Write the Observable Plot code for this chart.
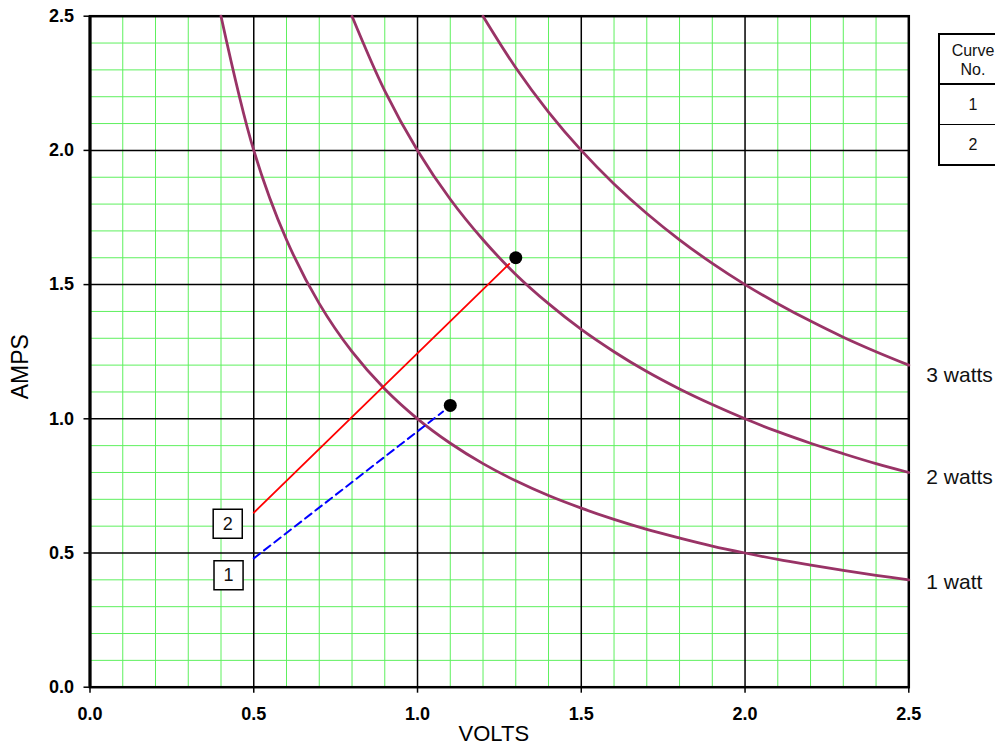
<!DOCTYPE html>
<html><head><meta charset="utf-8">
<script src="https://cdn.jsdelivr.net/npm/d3@7"></script>
<script src="https://cdn.jsdelivr.net/npm/@observablehq/plot@0.6"></script>
<style>
body{margin:0;background:#fff;font-family:"Liberation Sans",Arial,Helvetica,sans-serif;}
#wrap{position:relative;width:995px;height:751px;overflow:hidden;}
#wrap svg{display:block;}
#tbl{position:absolute;left:938px;top:33px;width:90px;border:2px solid #000;background:#fff;font-size:16px;color:#111;}
#tbl .c{width:66px;text-align:center;}
#tbl .h{height:50px;border-bottom:2px solid #000;line-height:19px;padding-top:6px;box-sizing:border-box;}
#tbl .r1{height:40px;border-bottom:1px solid #000;line-height:40px;box-sizing:border-box;}
#tbl .r2{height:39px;line-height:39px;box-sizing:border-box;}
</style>
</head><body>
<div id="wrap"></div>
<script>
// ---- data ----
const majorTicks = [0, 0.5, 1.0, 1.5, 2.0, 2.5];
const minorTicks = [0.1,0.2,0.3,0.4,0.6,0.7,0.8,0.9,1.1,1.2,1.3,1.4,1.6,1.7,1.8,1.9,2.1,2.2,2.3,2.4];

const volts1W = [0.4,0.5,0.6,0.7,0.8,0.9,1.0,1.1,1.2,1.3,1.4,1.5,1.6,1.7,1.8,1.9,2.0,2.1,2.2,2.3,2.4,2.5];
const amps1W  = [2.5,2.0,1.667,1.429,1.25,1.111,1.0,0.909,0.833,0.769,0.714,0.667,0.625,0.588,0.556,0.526,0.5,0.476,0.455,0.435,0.417,0.4];
const volts2W = [0.8,0.9,1.0,1.1,1.2,1.3,1.4,1.5,1.6,1.7,1.8,1.9,2.0,2.1,2.2,2.3,2.4,2.5];
const amps2W  = [2.5,2.222,2.0,1.818,1.667,1.538,1.429,1.333,1.25,1.176,1.111,1.053,1.0,0.952,0.909,0.870,0.833,0.8];
const volts3W = [1.2,1.3,1.4,1.5,1.6,1.7,1.8,1.9,2.0,2.1,2.2,2.3,2.4,2.5];
const amps3W  = [2.5,2.308,2.143,2.0,1.875,1.765,1.667,1.579,1.5,1.429,1.364,1.304,1.25,1.2];

const wattLabels = ["3 watts", "2 watts", "1 watt"];
const wattLabelX = [2.5, 2.5, 2.5];
const wattLabelY = [1.161, 0.783, 0.391];

// load lines
const line2Volts = [0.5, 1.28];
const line2Amps  = [0.65, 1.577];
const line1Volts = [0.5, 1.078];
const line1Amps  = [0.48, 1.027];

// operating points
const pointVolts = [1.3, 1.1];
const pointAmps  = [1.6, 1.05];

// boxed curve numbers
const boxLabels = ["2", "1"];
const boxVolts  = [0.4205, 0.423];
const boxAmps   = [0.609, 0.417];

const axisXLabel = "VOLTS";
const axisYLabel = "AMPS";

// ---- build tables ----
const curves = [];
[[volts1W, amps1W, "1"], [volts2W, amps2W, "2"], [volts3W, amps3W, "3"]].forEach(([vs, as, k]) => {
  vs.forEach((v, i) => curves.push({volts: v, amps: as[i], curve: k}));
});
const l2 = line2Volts.map((v, i) => ({volts: v, amps: line2Amps[i]}));
const l1 = line1Volts.map((v, i) => ({volts: v, amps: line1Amps[i]}));
const pts = pointVolts.map((v, i) => ({volts: v, amps: pointAmps[i]}));
const boxes = boxLabels.map((t, i) => ({label: t, volts: boxVolts[i], amps: boxAmps[i]}));
const wl = wattLabels.map((t, i) => ({label: t, volts: wattLabelX[i], amps: wattLabelY[i]}));

const green = "#5ef05e";
const chart = Plot.plot({
  width: 995, height: 751,
  marginLeft: 89.5, marginRight: 86.7, marginTop: 15.7, marginBottom: 64.3,
  style: {fontFamily: "Liberation Sans, Arial, Helvetica, sans-serif", background: "transparent", color: "#000"},
  x: {domain: [0, 2.5]},
  y: {domain: [0, 2.5]},
  marks: [
    Plot.ruleX(minorTicks, {stroke: green, strokeWidth: 1}),
    Plot.ruleY(minorTicks, {stroke: green, strokeWidth: 1}),
    Plot.ruleX(majorTicks, {stroke: "#000", strokeWidth: 1.5}),
    Plot.ruleY(majorTicks, {stroke: "#000", strokeWidth: 1.5}),
    Plot.frame({stroke: "#000", strokeWidth: 2.5}),
    Plot.ruleX([0], {stroke: "#000", strokeWidth: 3}),
    Plot.axisX(majorTicks, {tickFormat: d => d.toFixed(1), tickSize: 6, tickPadding: 14, fontSize: 18, fontWeight: "bold", strokeWidth: 1.5, label: null}),
    Plot.axisY(majorTicks, {tickFormat: d => d.toFixed(1), tickSize: 6, tickPadding: 10, fontSize: 18, fontWeight: "bold", strokeWidth: 1.5, label: null}),
    Plot.line(curves, {x: "volts", y: "amps", z: "curve", stroke: "#993366", strokeWidth: 2.8, curve: "catmull-rom"}),
    Plot.line(l2, {x: "volts", y: "amps", stroke: "#ff0000", strokeWidth: 1.8}),
    Plot.line(l1, {x: "volts", y: "amps", stroke: "#0000ff", strokeWidth: 2, strokeDasharray: "8,5"}),
    Plot.dot(pts, {x: "volts", y: "amps", r: 6.5, fill: "#000"}),
    Plot.dot(boxes, {x: "volts", y: "amps", symbol: "square", r: 16.4, fill: "#fff", stroke: "#000", strokeWidth: 1.5}),
    Plot.text(boxes, {x: "volts", y: "amps", text: "label", fontSize: 18, fill: "#111"}),
    Plot.text(wl, {x: "volts", y: "amps", text: "label", dx: 17.5, textAnchor: "start", fontSize: 21, fill: "#111"}),
    Plot.text([axisYLabel], {text: d => d, frameAnchor: "left", textAnchor: "middle", lineAnchor: "middle", dx: -69.5, dy: 15, rotate: -90, fontSize: 23, fill: "#000"}),
    Plot.text([axisXLabel], {text: d => d, frameAnchor: "bottom", textAnchor: "middle", lineAnchor: "middle", dx: -5.6, dy: 46.3, fontSize: 22, fill: "#000"})
  ]
});
const wrap = document.getElementById("wrap");
wrap.appendChild(chart);

// curve-number table (partially cut off at right edge, as in the reference)
const tbl = document.createElement("div");
tbl.id = "tbl";
tbl.innerHTML = '<div class="c h">Curve<br>No.</div><div class="r1"><div class="c">1</div></div><div class="r2"><div class="c">2</div></div>';
wrap.appendChild(tbl);
</script>
</body></html>
